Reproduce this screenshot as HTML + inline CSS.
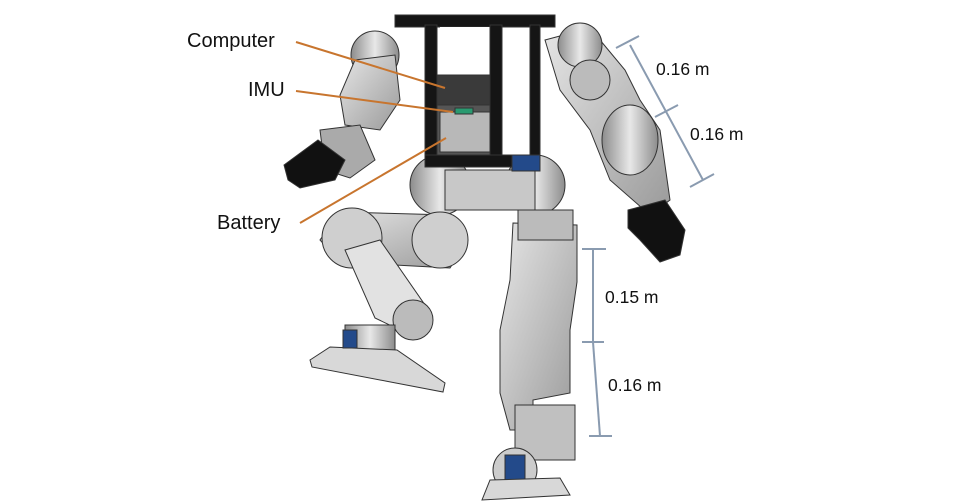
<!DOCTYPE html>
<html><head><meta charset="utf-8"><style>
html,body{margin:0;padding:0;background:#fff;}
svg{display:block}
text{font-family:"Liberation Sans",sans-serif;fill:#111;}
</style></head><body>
<svg width="960" height="504" viewBox="0 0 960 504" xmlns="http://www.w3.org/2000/svg">
<defs>
<linearGradient id="g" x1="0" y1="0" x2="1" y2="1"><stop offset="0" stop-color="#e6e6e6"/><stop offset="1" stop-color="#9a9a9a"/></linearGradient>
<linearGradient id="g2" x1="0" y1="0" x2="1" y2="0"><stop offset="0" stop-color="#8c8c8c"/><stop offset=".5" stop-color="#e8e8e8"/><stop offset="1" stop-color="#8c8c8c"/></linearGradient>
</defs>
<g stroke="#333" stroke-width="1">
<!-- right arm -->
<polygon points="545,40 590,28 625,70 640,100 660,130 670,200 650,215 610,180 590,130 560,90" fill="url(#g)"/>
<circle cx="580" cy="45" r="22" fill="url(#g2)"/>
<circle cx="590" cy="80" r="20" fill="#bbb"/>
<ellipse cx="630" cy="140" rx="28" ry="35" fill="url(#g2)"/>
<polygon points="628,210 665,200 685,230 680,255 660,262 640,240 628,228" fill="#111"/>
<!-- left arm -->
<circle cx="375" cy="55" r="24" fill="url(#g2)"/>
<polygon points="355,60 395,55 400,100 380,130 345,125 340,95" fill="url(#g)"/>
<polygon points="320,130 360,125 375,160 350,178 325,170" fill="#aaa"/>
<polygon points="284,165 318,140 345,160 335,180 300,188 288,180" fill="#111"/>
<!-- hips -->
<circle cx="440" cy="185" r="30" fill="url(#g2)"/>
<circle cx="535" cy="185" r="30" fill="url(#g2)"/>
<rect x="445" y="170" width="90" height="40" fill="#c8c8c8"/>
<!-- left leg thigh -->
<polygon points="340,212 450,215 468,240 450,268 340,262 320,240" fill="url(#g)"/>
<circle cx="352" cy="238" r="30" fill="#cfcfcf"/>
<circle cx="440" cy="240" r="28" fill="#cfcfcf"/>
<polygon points="345,250 380,240 425,305 400,330 375,318" fill="#e2e2e2"/>
<circle cx="413" cy="320" r="20" fill="#bbb"/>
<rect x="345" y="325" width="50" height="35" fill="url(#g2)"/>
<polygon points="310,360 330,347 397,350 445,383 443,392 312,367" fill="#d8d8d8"/>
<rect x="343" y="330" width="14" height="18" fill="#234a8a"/>
<!-- right leg -->
<polygon points="513,223 577,225 577,282 570,330 570,393 533,400 533,430 510,430 500,393 500,330 510,280" fill="url(#g)"/>
<rect x="518" y="210" width="55" height="30" fill="#bbb"/>
<rect x="515" y="405" width="60" height="55" fill="#c0c0c0"/>
<circle cx="515" cy="470" r="22" fill="#ccc"/>
<rect x="505" y="455" width="20" height="25" fill="#234a8a"/>
<polygon points="490,480 560,478 570,495 482,500" fill="#d8d8d8"/>
<!-- torso -->
<rect x="395" y="15" width="160" height="12" fill="#151515"/>
<rect x="425" y="100" width="70" height="55" fill="#555"/>
<rect x="432" y="75" width="60" height="30" fill="#3a3a3a"/>
<rect x="440" y="112" width="50" height="40" fill="#b8b8b8"/>
<rect x="440" y="27" width="50" height="45" fill="#fff" stroke="none"/>
<rect x="425" y="25" width="12" height="140" fill="#151515"/>
<rect x="490" y="25" width="12" height="140" fill="#151515"/>
<rect x="530" y="25" width="10" height="130" fill="#151515"/>
<rect x="425" y="155" width="115" height="12" fill="#151515"/>
<rect x="455" y="108" width="18" height="6" fill="#2a9a70"/>
<rect x="512" y="155" width="28" height="16" fill="#234a8a"/>
</g>
<!-- orange leaders -->
<g stroke="#c8752e" stroke-width="2">
<line x1="296" y1="42" x2="445" y2="88"/>
<line x1="296" y1="91" x2="453" y2="112"/>
<line x1="300" y1="223" x2="446" y2="138"/>
</g>
<text x="187" y="47" font-size="20">Computer</text>
<text x="248" y="96" font-size="20">IMU</text>
<text x="217" y="229" font-size="20">Battery</text>
<!-- dimensions -->
<g stroke="#8a9bb0" stroke-width="2">
<line x1="616" y1="48" x2="639" y2="36"/>
<line x1="655" y1="117" x2="678" y2="105"/>
<line x1="690" y1="187" x2="714" y2="174"/>
<line x1="630" y1="45" x2="703" y2="180"/>
<line x1="582" y1="249" x2="606" y2="249"/>
<line x1="582" y1="342" x2="604" y2="342"/>
<line x1="589" y1="436" x2="612" y2="436"/>
<line x1="593" y1="249" x2="593" y2="342"/>
<line x1="593" y1="342" x2="600" y2="436"/>
</g>
<text x="656" y="75" font-size="17.5">0.16 m</text>
<text x="690" y="140" font-size="17.5">0.16 m</text>
<text x="605" y="303" font-size="17.5">0.15 m</text>
<text x="608" y="391" font-size="17.5">0.16 m</text>
</svg>
</body></html>
